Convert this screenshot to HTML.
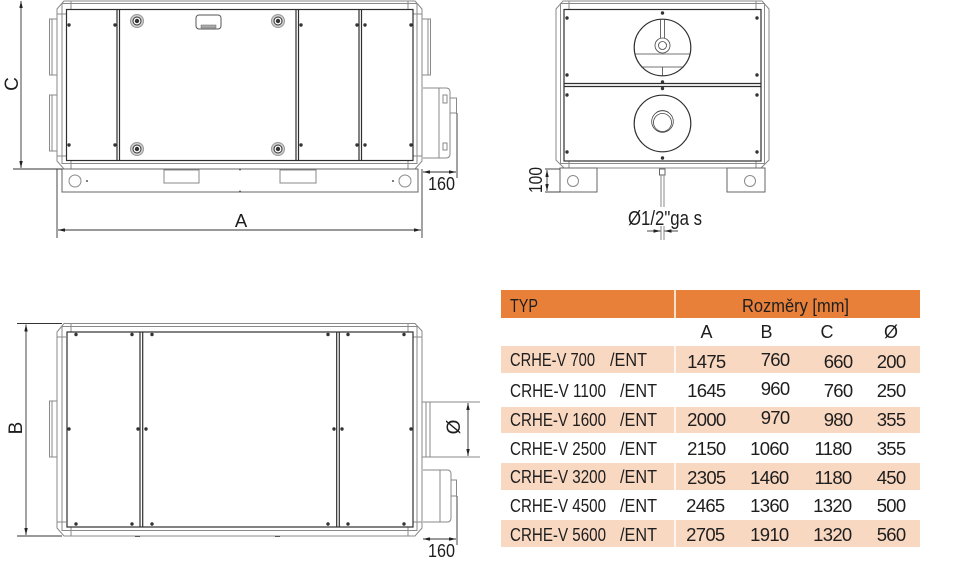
<!DOCTYPE html>
<html><head><meta charset="utf-8"><style>
html,body{margin:0;padding:0;background:#fff;}
svg{display:block;}
text{font-family:"Liberation Sans",sans-serif;fill:#1e1e1e;}
</style></head><body>
<svg width="965" height="568" viewBox="0 0 965 568" xmlns="http://www.w3.org/2000/svg">
<defs>
<marker id="ar" viewBox="0 0 8 4" refX="8" refY="2" markerWidth="7" markerHeight="3.5" orient="auto-start-reverse" markerUnits="userSpaceOnUse"><path d="M0,0L8,2L0,4z" fill="#222"/></marker>
</defs>
<rect width="965" height="568" fill="#fff"/>

<!-- ===== TOP-LEFT VIEW ===== -->
<g fill="none" stroke="#8a8a8a" stroke-width="1">
  <rect x="49.5" y="19" width="7.5" height="56"/><line x1="52" y1="19" x2="52" y2="75"/>
  <rect x="49.5" y="95" width="7.5" height="56"/><line x1="52" y1="95" x2="52" y2="151"/>
  <rect x="422" y="19" width="8.5" height="56"/><line x1="428" y1="19" x2="428" y2="75"/>
  <path d="M57,9 L64,1 L415,1 L422,9 L422,161 L415,169 L64,169 L57,161 Z"/>
  <rect x="62" y="3.5" width="355" height="160"/>
  <line x1="71" y1="1" x2="71" y2="9.5"/><line x1="408" y1="1" x2="408" y2="9.5"/>
  <line x1="57" y1="14" x2="66" y2="14"/><line x1="413" y1="14" x2="422" y2="14"/>
  <line x1="57" y1="156" x2="66" y2="156"/><line x1="413" y1="156" x2="422" y2="156"/>
  <line x1="71" y1="160.5" x2="71" y2="169"/><line x1="408" y1="160.5" x2="408" y2="169"/>
  <path d="M423,88 L446,88 Q450,88 450,92 L450,154 Q450,158 446,158 L423,158"/>
  <line x1="439" y1="88" x2="439" y2="158"/>
  <rect x="443" y="95" width="4" height="8"/>
  <rect x="443" y="143" width="4" height="7"/>
  <rect x="450" y="98" width="6.5" height="15"/>
  <rect x="62" y="169" width="356" height="23" stroke="#666"/>
  <circle cx="75" cy="181" r="6"/><circle cx="405" cy="181" r="6"/>
  <rect x="164" y="170" width="35" height="13"/>
  <rect x="280" y="170" width="36" height="13"/>
</g>
<circle cx="87" cy="181" r="1" fill="#555"/><circle cx="393" cy="181" r="1" fill="#555"/>
<circle cx="240" cy="169.5" r="1" fill="#555"/><circle cx="240" cy="191.5" r="1" fill="#555"/>
<g fill="none" stroke="#2e2e2e" stroke-width="1.2">
  <rect x="66.5" y="9.5" width="346.5" height="151"/>
  <line x1="117" y1="9.5" x2="117" y2="160.5"/><line x1="119.5" y1="9.5" x2="119.5" y2="160.5"/>
  <line x1="296" y1="9.5" x2="296" y2="160.5"/><line x1="298.5" y1="9.5" x2="298.5" y2="160.5"/>
  <line x1="359" y1="9.5" x2="359" y2="160.5"/><line x1="361.5" y1="9.5" x2="361.5" y2="160.5"/>
</g>
<g fill="#333">
  <circle cx="69" cy="25" r="1.7"/><circle cx="115" cy="25" r="1.7"/><circle cx="69" cy="145" r="1.7"/><circle cx="115" cy="145" r="1.7"/>
  <circle cx="301" cy="25" r="1.7"/><circle cx="357" cy="25" r="1.7"/><circle cx="365" cy="25" r="1.7"/><circle cx="411" cy="25" r="1.7"/>
  <circle cx="301" cy="145" r="1.7"/><circle cx="357" cy="145" r="1.7"/><circle cx="365" cy="145" r="1.7"/><circle cx="411" cy="145" r="1.7"/>
</g>
<g>
  <g transform="translate(137,21)"><circle r="6.5" fill="#cfcfcf" stroke="#999"/><circle r="4" fill="#fff" stroke="#333"/><circle r="2.2" fill="#333"/></g>
  <g transform="translate(137,149)"><circle r="6.5" fill="#cfcfcf" stroke="#999"/><circle r="4" fill="#fff" stroke="#333"/><circle r="2.2" fill="#333"/></g>
  <g transform="translate(278,21)"><circle r="6.5" fill="#cfcfcf" stroke="#999"/><circle r="4" fill="#fff" stroke="#333"/><circle r="2.2" fill="#333"/></g>
  <g transform="translate(278,149)"><circle r="6.5" fill="#cfcfcf" stroke="#999"/><circle r="4" fill="#fff" stroke="#333"/><circle r="2.2" fill="#333"/></g>
</g>
<rect x="196" y="15" width="25" height="14" rx="3" fill="#fff" stroke="#555"/>
<rect x="201" y="25" width="15" height="3" fill="#aaa" stroke="#666" stroke-width="0.5"/>
<g stroke="#333" stroke-width="0.9" fill="none">
  <line x1="21" y1="1" x2="21" y2="168" marker-start="url(#ar)" marker-end="url(#ar)"/>
  <line x1="13" y1="169" x2="62" y2="169"/>
  <line x1="57" y1="169" x2="57" y2="238"/>
  <line x1="422" y1="169" x2="422" y2="238"/>
  <line x1="58" y1="230" x2="421" y2="230" marker-start="url(#ar)" marker-end="url(#ar)"/>
  <line x1="457" y1="113" x2="457" y2="178"/>
  <line x1="423" y1="172" x2="456" y2="172" marker-start="url(#ar)" marker-end="url(#ar)"/>
</g>
<text x="18" y="84" font-size="19" text-anchor="middle" transform="rotate(-90 18 84)">C</text>
<text x="241" y="227" font-size="18.5" text-anchor="middle">A</text>
<text x="428" y="190" font-size="18.5" textLength="27" lengthAdjust="spacingAndGlyphs">160</text>

<!-- ===== TOP-RIGHT VIEW ===== -->
<g fill="none" stroke="#8a8a8a" stroke-width="1">
  <path d="M556,9 L563,1 L762,1 L769,9 L769,160 L761,168 L564,168 L556,160 Z"/>
  <rect x="560.5" y="3.5" width="204" height="160"/>
  <line x1="569" y1="1" x2="569" y2="9.5"/><line x1="756" y1="1" x2="756" y2="9.5"/>
  <line x1="569" y1="160.5" x2="569" y2="168"/><line x1="756" y1="160.5" x2="756" y2="168"/>
  <rect x="560" y="168" width="37" height="24" stroke="#666"/>
  <rect x="727" y="168" width="38" height="24" stroke="#666"/>
  <circle cx="573" cy="181" r="5.5"/><circle cx="750" cy="181" r="5.5"/>
  <rect x="659.5" y="169" width="5.5" height="6" stroke="#666"/>
  <line x1="661" y1="175" x2="661" y2="207"/><line x1="664" y1="175" x2="664" y2="207"/>
  <line x1="661" y1="226" x2="661" y2="240"/><line x1="664" y1="226" x2="664" y2="240"/>
</g>
<g fill="none" stroke="#2e2e2e" stroke-width="1.2">
  <rect x="564" y="9.5" width="197" height="151.5"/>
  <line x1="564" y1="83.5" x2="761" y2="83.5"/><line x1="564" y1="86.5" x2="761" y2="86.5"/>
  <circle cx="662.5" cy="47.5" r="28.3"/>
  <circle cx="662.5" cy="123.5" r="28.3"/>
</g>
<g fill="none" stroke="#444" stroke-width="0.8">
  <circle cx="662.5" cy="45.5" r="7.5"/><circle cx="662.5" cy="45.5" r="4"/>
  <line x1="660.5" y1="19.5" x2="660.5" y2="38"/><line x1="664.5" y1="19.5" x2="664.5" y2="38"/>
  <line x1="635.5" y1="54" x2="689.5" y2="54"/>
  <line x1="641" y1="67" x2="684" y2="67"/>
  <line x1="662.5" y1="67" x2="662.5" y2="75.5"/>
  <circle cx="662.5" cy="121.5" r="10.8"/><circle cx="662.5" cy="122.5" r="9"/>
  <path d="M657,112 Q662.5,109 668,112"/>
</g>
<g fill="#333">
  <circle cx="567" cy="18" r="1.7"/><circle cx="757" cy="18" r="1.7"/><circle cx="567" cy="75" r="1.7"/><circle cx="757" cy="75" r="1.7"/>
  <circle cx="567" cy="95" r="1.7"/><circle cx="757" cy="95" r="1.7"/><circle cx="567" cy="152" r="1.7"/><circle cx="757" cy="152" r="1.7"/>
  <circle cx="662.5" cy="13" r="1.7"/><circle cx="662.5" cy="82" r="1.7"/><circle cx="662.5" cy="88.5" r="1.7"/><circle cx="662.5" cy="158" r="1.7"/>
</g>
<g stroke="#333" stroke-width="0.9" fill="none">
  <line x1="545" y1="169" x2="560" y2="169"/>
  <line x1="545" y1="192" x2="560" y2="192"/>
  <line x1="547" y1="170" x2="547" y2="191" marker-start="url(#ar)" marker-end="url(#ar)"/>
  <line x1="647" y1="231" x2="660.5" y2="231" marker-end="url(#ar)"/>
  <line x1="678" y1="231" x2="664.5" y2="231" marker-end="url(#ar)"/>
</g>
<text x="542" y="180" font-size="18.5" text-anchor="middle" textLength="26" lengthAdjust="spacingAndGlyphs" transform="rotate(-90 542 180)">100</text>
<text x="628" y="225" font-size="20" textLength="74" lengthAdjust="spacingAndGlyphs">Ø1/2"ga s</text>

<!-- ===== BOTTOM-LEFT VIEW ===== -->
<g fill="none" stroke="#8a8a8a" stroke-width="1">
  <rect x="49.5" y="401" width="7.5" height="56"/><line x1="52" y1="401" x2="52" y2="457"/>
  <path d="M57,332 L64,323.5 L415,323.5 L422,331 L422,528 L415,536 L64,536 L57,528 Z"/>
  <rect x="62" y="326.5" width="355" height="204"/>
  <line x1="71" y1="323.5" x2="71" y2="332"/><line x1="408" y1="323.5" x2="408" y2="332"/>
  <line x1="71" y1="527" x2="71" y2="536"/><line x1="408" y1="527" x2="408" y2="536"/>
  <line x1="57" y1="337" x2="66" y2="337"/><line x1="413" y1="337" x2="422" y2="337"/>
  <line x1="57" y1="522" x2="66" y2="522"/><line x1="413" y1="522" x2="422" y2="522"/>
  <rect x="422" y="402" width="8" height="55"/><line x1="426" y1="402" x2="426" y2="457"/>
  <line x1="430" y1="402" x2="480" y2="402"/>
  <line x1="430" y1="457" x2="480" y2="457"/>
  <path d="M423,470 L447,470 Q451,470 451,474 L451,518 Q451,522 447,522 L423,522"/>
  <line x1="440" y1="470" x2="440" y2="522"/>
  <rect x="451" y="480" width="5.5" height="16"/>
</g>
<line x1="135" y1="536.5" x2="140" y2="536.5" stroke="#555"/>
<line x1="275" y1="536.5" x2="280" y2="536.5" stroke="#555"/>
<g fill="none" stroke="#2e2e2e" stroke-width="1.2">
  <rect x="67" y="332" width="346" height="195"/>
  <line x1="140" y1="332" x2="140" y2="527"/><line x1="142.7" y1="332" x2="142.7" y2="527"/>
  <line x1="336.7" y1="332" x2="336.7" y2="527"/><line x1="339.3" y1="332" x2="339.3" y2="527"/>
</g>
<g fill="#333">
  <circle cx="76" cy="334.5" r="1.7"/><circle cx="132" cy="334.5" r="1.7"/><circle cx="152" cy="334.5" r="1.7"/>
  <circle cx="328" cy="334.5" r="1.7"/><circle cx="348" cy="334.5" r="1.7"/><circle cx="404" cy="334.5" r="1.7"/>
  <circle cx="69" cy="429" r="1.7"/><circle cx="138" cy="429" r="1.7"/><circle cx="146" cy="429" r="1.7"/>
  <circle cx="334" cy="429" r="1.7"/><circle cx="342" cy="429" r="1.7"/><circle cx="411" cy="429" r="1.7"/>
  <circle cx="76" cy="524" r="1.7"/><circle cx="132" cy="524" r="1.7"/><circle cx="152" cy="524" r="1.7"/>
  <circle cx="328" cy="524" r="1.7"/><circle cx="348" cy="524" r="1.7"/><circle cx="404" cy="524" r="1.7"/>
</g>
<g stroke="#333" stroke-width="0.9" fill="none">
  <line x1="17" y1="323.5" x2="62" y2="323.5"/>
  <line x1="17" y1="536" x2="62" y2="536"/>
  <line x1="26" y1="324.5" x2="26" y2="535" marker-start="url(#ar)" marker-end="url(#ar)"/>
  <line x1="468" y1="403" x2="468" y2="456" marker-start="url(#ar)" marker-end="url(#ar)"/>
  <line x1="457" y1="496" x2="457" y2="545"/>
  <line x1="423" y1="539" x2="456" y2="539" marker-start="url(#ar)" marker-end="url(#ar)"/>
</g>
<text x="22" y="428" font-size="19" text-anchor="middle" transform="rotate(-90 22 428)">B</text>
<text x="460" y="427" font-size="19" text-anchor="middle" transform="rotate(-90 460 427)">Ø</text>
<text x="428" y="557" font-size="18.5" textLength="27" lengthAdjust="spacingAndGlyphs">160</text>

<!-- ===== TABLE ===== -->
<rect x="501" y="290" width="419" height="28" fill="#e8803a"/>
<rect x="501" y="346" width="419" height="27" fill="#f9d8c1"/>
<rect x="501" y="407" width="419" height="26" fill="#f9d8c1"/>
<rect x="501" y="463" width="419" height="27" fill="#f9d8c1"/>
<rect x="501" y="520" width="419" height="27" fill="#f9d8c1"/>
<g stroke="#fff" stroke-width="1.5">
  <line x1="675" y1="290" x2="675" y2="318"/>
  <line x1="675" y1="346" x2="675" y2="373"/>
  <line x1="675" y1="407" x2="675" y2="433"/>
  <line x1="675" y1="463" x2="675" y2="490"/>
  <line x1="675" y1="520" x2="675" y2="547"/>
</g>
<g font-size="18">
  <text x="510" y="312" textLength="28" lengthAdjust="spacingAndGlyphs">TYP</text>
  <text x="742" y="312" textLength="107" lengthAdjust="spacingAndGlyphs">Rozměry [mm]</text>
  <text x="706.5" y="338" text-anchor="middle">A</text>
  <text x="766.5" y="338" text-anchor="middle">B</text>
  <text x="827" y="338" text-anchor="middle">C</text>
  <text x="891" y="338" text-anchor="middle">Ø</text>
</g>
<g font-size="18.5">
  <text x="510" y="366" textLength="85" lengthAdjust="spacingAndGlyphs">CRHE-V 700</text>
  <text x="610" y="366" textLength="37" lengthAdjust="spacingAndGlyphs">/ENT</text>
  <text x="510" y="397" textLength="96" lengthAdjust="spacingAndGlyphs">CRHE-V 1100</text>
  <text x="620" y="397" textLength="37" lengthAdjust="spacingAndGlyphs">/ENT</text>
  <text x="510" y="426" textLength="96" lengthAdjust="spacingAndGlyphs">CRHE-V 1600</text>
  <text x="620" y="426" textLength="37" lengthAdjust="spacingAndGlyphs">/ENT</text>
  <text x="510" y="455" textLength="96" lengthAdjust="spacingAndGlyphs">CRHE-V 2500</text>
  <text x="620" y="455" textLength="37" lengthAdjust="spacingAndGlyphs">/ENT</text>
  <text x="510" y="483" textLength="96" lengthAdjust="spacingAndGlyphs">CRHE-V 3200</text>
  <text x="620" y="483" textLength="37" lengthAdjust="spacingAndGlyphs">/ENT</text>
  <text x="510" y="512" textLength="96" lengthAdjust="spacingAndGlyphs">CRHE-V 4500</text>
  <text x="620" y="512" textLength="37" lengthAdjust="spacingAndGlyphs">/ENT</text>
  <text x="510" y="541" textLength="96" lengthAdjust="spacingAndGlyphs">CRHE-V 5600</text>
  <text x="620" y="541" textLength="37" lengthAdjust="spacingAndGlyphs">/ENT</text>
</g>
<g font-size="18.5" text-anchor="end" letter-spacing="-0.7">
  <text x="725.5" y="368">1475</text><text x="789.5" y="366">760</text><text x="852.5" y="368">660</text><text x="905.5" y="368">200</text>
  <text x="725.5" y="397">1645</text><text x="789.5" y="395">960</text><text x="852.5" y="397">760</text><text x="905.5" y="397">250</text>
  <text x="725.5" y="426">2000</text><text x="789.5" y="424">970</text><text x="852.5" y="426">980</text><text x="905.5" y="426">355</text>
  <text x="725.5" y="455">2150</text><text x="788.5" y="455">1060</text><text x="851.5" y="455">1180</text><text x="905.5" y="455">355</text>
  <text x="725.5" y="484">2305</text><text x="788.5" y="484">1460</text><text x="851.5" y="484">1180</text><text x="905.5" y="484">450</text>
  <text x="724.5" y="512">2465</text><text x="788.5" y="512">1360</text><text x="851.5" y="512">1320</text><text x="905.5" y="512">500</text>
  <text x="724.5" y="541">2705</text><text x="788.5" y="541">1910</text><text x="851.5" y="541">1320</text><text x="905.5" y="541">560</text>
</g>
</svg>
</body></html>
